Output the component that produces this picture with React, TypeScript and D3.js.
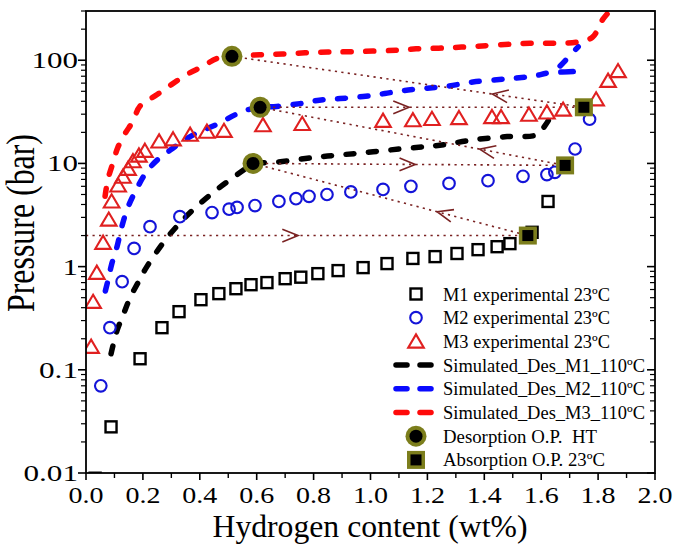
import React from 'react';
import * as d3 from 'd3';

const W = 673, H = 548;
const X0 = 86, X1 = 655, Y0 = 11, Y1 = 473;
const FONT = '"Liberation Serif", "Times New Roman", serif';

// Axis ticks
const xTickValues = [0, 0.2, 0.4, 0.6, 0.8, 1.0, 1.2, 1.4, 1.6, 1.8, 2.0];
const xTickLabels = ['0.0', '0.2', '0.4', '0.6', '0.8', '1.0', '1.2', '1.4', '1.6', '1.8', '2.0'];
const yTickValues = [0.01, 0.1, 1, 10, 100];
const yTickLabels = ['0.01', '0.1', '1', '10', '100'];

// M1 experimental 23ºC
const m1X = [0.032, 0.088, 0.19, 0.267, 0.327, 0.404, 0.467, 0.527, 0.58, 0.636, 0.70, 0.755, 0.815, 0.886, 0.974, 1.058, 1.149, 1.227, 1.304, 1.378, 1.445, 1.49, 1.568, 1.624];
const m1P = [0.0089, 0.028, 0.128, 0.256, 0.366, 0.478, 0.547, 0.611, 0.668, 0.70, 0.764, 0.79, 0.855, 0.915, 0.978, 1.07, 1.20, 1.25, 1.34, 1.46, 1.56, 1.67, 2.15, 4.28];

// M2 experimental 23ºC
const m2X = [0.052, 0.084, 0.127, 0.169, 0.225, 0.33, 0.443, 0.503, 0.531, 0.594, 0.678, 0.738, 0.784, 0.847, 0.931, 1.044, 1.142, 1.276, 1.413, 1.536, 1.62, 1.648, 1.719, 1.77];
const m2P = [0.07, 0.256, 0.715, 1.5, 2.44, 3.05, 3.34, 3.6, 3.75, 3.9, 4.28, 4.55, 4.8, 5.0, 5.3, 5.6, 6.0, 6.4, 6.8, 7.5, 7.8, 8.2, 13.8, 26.8];

// M3 experimental 23ºC
const m3X = [0.018, 0.025, 0.038, 0.06, 0.08, 0.09, 0.113, 0.13, 0.148, 0.165, 0.186, 0.207, 0.257, 0.306, 0.366, 0.425, 0.485, 0.622, 0.76, 1.044, 1.149, 1.216, 1.311, 1.427, 1.459, 1.557, 1.62, 1.677, 1.793, 1.835, 1.87];
const m3P = [0.164, 0.447, 0.855, 1.67, 2.8, 4.2, 6.0, 7.3, 8.7, 10.3, 11.7, 13.0, 16.0, 16.8, 18.6, 19.9, 20.3, 23, 23.7, 25.4, 25.7, 26.5, 27, 27.6, 27.6, 29.1, 30.6, 32.6, 41, 62, 77];

// Simulated desorption curves at 110ºC
const simM1X = [0.088, 0.108, 0.131, 0.155, 0.183, 0.214, 0.288, 0.366, 0.447, 0.517, 0.566, 0.587, 0.657, 0.81, 0.963, 1.114, 1.244, 1.36, 1.48, 1.575, 1.595, 1.625];
const simM1P = [0.143, 0.235, 0.342, 0.5, 0.70, 1.0, 1.95, 3.34, 5.23, 7.3, 9.1, 10, 10.2, 11.5, 12.6, 13.9, 15.0, 16.9, 18.2, 18.6, 20, 26];
const simM2X = [0.068, 0.078, 0.09, 0.109, 0.126, 0.148, 0.18, 0.213, 0.252, 0.30, 0.34, 0.394, 0.46, 0.524, 0.566, 0.612, 0.67, 0.752, 0.82, 0.893, 0.974, 1.05, 1.12, 1.2, 1.27, 1.36, 1.48, 1.57, 1.63, 1.73, 1.655, 1.68, 1.73];
const simM2P = [0.58, 0.75, 1.05, 1.56, 2.45, 3.8, 5.8, 8.3, 10.9, 13.7, 16.5, 20, 23.9, 29.6, 33, 35, 35.6, 38, 41, 42.5, 44.5, 47.6, 51, 53.5, 56, 61.5, 66, 70, 75.6, 78, 79, 96, 135];
const simM3X = [0.067, 0.077, 0.095, 0.112, 0.137, 0.165, 0.19, 0.25, 0.30, 0.355, 0.41, 0.46, 0.513, 0.61, 0.69, 0.77, 0.85, 0.93, 1.09, 1.16, 1.24, 1.32, 1.56, 1.655, 1.725, 1.78, 1.817, 1.85];
const simM3P = [4.8, 7.0, 10.2, 14.3, 19.4, 25.6, 36, 46.5, 58, 73, 87, 104, 109, 113, 115, 118, 120, 121, 125, 129, 131, 134, 146, 146, 150, 167, 250, 320];

// Operating points
const desX = [0.513, 0.612, 0.587];
const desP = [109, 35, 10];
const absX = [1.553, 1.684, 1.75];
const absP = [2.0, 9.57, 35];

// Dotted arrow paths
const segX1 = [0, 0.587, 0.587, 0.612, 0.612, 0.513];
const segP1 = [2.0, 10, 10, 35, 35, 109];
const segX2 = [1.553, 1.553, 1.684, 1.684, 1.75, 1.75];
const segP2 = [2.0, 2.0, 9.57, 9.57, 35, 35];
const headFrac = [0.48, 0.67, 0.52, 0.72, 0.46, 0.74];
const headDir = [1, -1, 1, -1, 1, -1];

const legendLabels = [
  'M1 experimental 23ºC',
  'M2 experimental 23ºC',
  'M3 experimental 23ºC',
  'Simulated_Des_M1_110ºC',
  'Simulated_Des_M2_110ºC',
  'Simulated_Des_M3_110ºC',
  'Desorption O.P.  HT',
  'Absorption O.P. 23ºC',
];
const legendWidths = [167, 167, 167, 202, 202, 202, 154, 162];

const BLACK = '#000000';
const BLUE_M = '#1414d8';
const RED_M = '#e02020';
const BLUE_L = '#0a0aff';
const RED_L = '#ff0a0a';
const OLIVE = '#7c7e1c';
const ARROW = '#7a2222';

function Square({ cx, cy }: { cx: number; cy: number }) {
  const s = 11;
  return <rect x={cx - s / 2} y={cy - s / 2} width={s} height={s} fill="none" stroke={BLACK} strokeWidth={2.4} />;
}
function Circle({ cx, cy }: { cx: number; cy: number }) {
  return <circle cx={cx} cy={cy} r={5.8} fill="none" stroke={BLUE_M} strokeWidth={2.1} />;
}
function Tri({ cx, cy }: { cx: number; cy: number }) {
  const d = `M${cx},${cy - 8} L${cx + 7.8},${cy + 5.2} L${cx - 7.8},${cy + 5.2} Z`;
  return <path d={d} fill="none" stroke={RED_M} strokeWidth={2.1} strokeLinejoin="miter" />;
}
function DesOP({ cx, cy }: { cx: number; cy: number }) {
  return (
    <g>
      <circle cx={cx} cy={cy} r={10.5} fill={OLIVE} />
      <circle cx={cx} cy={cy} r={6.5} fill={BLACK} />
    </g>
  );
}
function AbsOP({ cx, cy }: { cx: number; cy: number }) {
  return (
    <g>
      <rect x={cx - 9} y={cy - 9} width={18} height={18} fill={OLIVE} />
      <rect x={cx - 5.5} y={cy - 5.5} width={11} height={11} fill={BLACK} />
    </g>
  );
}

export default function App() {
  const x = d3.scaleLinear().domain([0, 2]).range([X0, X1]);
  const y = d3.scaleLog().domain([0.01, 300]).range([Y1, Y0]);

  const line = d3
    .line<[number, number]>()
    .x((d) => x(d[0]))
    .y((d) => y(d[1]))
    .curve(d3.curveCatmullRom.alpha(0.5));

  const zip = (a: number[], b: number[]) => a.map((v, i) => [v, b[i]] as [number, number]);

  const minorY: number[] = [];
  for (let e = -2; e <= 2; e++) {
    for (let k = 2; k <= 9; k++) {
      const v = k * Math.pow(10, e);
      if (v <= 300) minorY.push(v);
    }
  }
  const minorX = d3.range(1, 20, 2).map((i) => i / 10);

  const simStyle = {
    fill: 'none',
    strokeWidth: 5.5,
    strokeLinecap: 'round' as const,
    strokeDasharray: '8 14.5',
  };

  const legendY = (i: number) => 294 + i * 23.7;

  return (
    <svg width={W} height={H} style={{ position: 'absolute', left: 0, top: 0, background: '#fff' }}>
      <defs>
        <clipPath id="plotClip">
          <rect x={X0} y={Y0} width={X1 - X0} height={Y1 - Y0} />
        </clipPath>
      </defs>
      <rect x={0} y={0} width={W} height={H} fill="#fff" />

      <g clipPath="url(#plotClip)">
        {/* simulated curves */}
        <path d={line(zip(simM1X, simM1P)) || ''} stroke={BLACK} {...simStyle} />
        <path d={line(zip(simM2X, simM2P)) || ''} stroke={BLUE_L} {...simStyle} />
        <path d={line(zip(simM3X, simM3P)) || ''} stroke={RED_L} {...simStyle} />

        {/* dotted arrows */}
        {segX1.map((_, i) => {
          const ax = x(segX1[i]), ay = y(segP1[i]);
          const bx = x(segX2[i]), by = y(segP2[i]);
          const tx = ax + headFrac[i] * (bx - ax);
          const ty = ay + headFrac[i] * (by - ay);
          const len = Math.hypot(bx - ax, by - ay);
          const ux = ((bx - ax) / len) * headDir[i];
          const uy = ((by - ay) / len) * headDir[i];
          const ang = (22 * Math.PI) / 180;
          const L = 17;
          const r1x = -ux * Math.cos(ang) + uy * Math.sin(ang);
          const r1y = -uy * Math.cos(ang) - ux * Math.sin(ang);
          const r2x = -ux * Math.cos(ang) - uy * Math.sin(ang);
          const r2y = -uy * Math.cos(ang) + ux * Math.sin(ang);
          return (
            <g key={'arr' + i}>
              <line x1={ax} y1={ay} x2={bx} y2={by} stroke={ARROW} strokeWidth={1.6} strokeDasharray="2.2 4.3" />
              <path
                d={`M${tx + r1x * L},${ty + r1y * L} L${tx},${ty} L${tx + r2x * L},${ty + r2y * L}`}
                fill="none"
                stroke={ARROW}
                strokeWidth={1.6}
              />
            </g>
          );
        })}

        {/* experimental */}
        {m1X.map((v, i) => <Square key={'m1' + i} cx={x(v)} cy={y(m1P[i])} />)}
        {m2X.map((v, i) => <Circle key={'m2' + i} cx={x(v)} cy={y(m2P[i])} />)}
        {m3X.map((v, i) => <Tri key={'m3' + i} cx={x(v)} cy={y(m3P[i])} />)}

        {/* operating points */}
        {desX.map((v, i) => <DesOP key={'d' + i} cx={x(v)} cy={y(desP[i])} />)}
        {absX.map((v, i) => <AbsOP key={'a' + i} cx={x(v)} cy={y(absP[i])} />)}
      </g>

      {/* frame */}
      <rect x={X0} y={Y0} width={X1 - X0} height={Y1 - Y0} fill="none" stroke={BLACK} strokeWidth={1.8} />

      {/* x ticks */}
      {xTickValues.map((v) => (
        <line key={'xt' + v} x1={x(v)} x2={x(v)} y1={Y1} y2={Y1 + 7} stroke={BLACK} strokeWidth={1.6} />
      ))}
      {minorX.map((v) => (
        <line key={'xm' + v} x1={x(v)} x2={x(v)} y1={Y1} y2={Y1 + 5} stroke={BLACK} strokeWidth={1.4} />
      ))}
      {xTickValues.map((v, i) => (
        <text
          key={'xl' + v}
          x={x(v)}
          y={503}
          textAnchor="middle"
          fontFamily={FONT}
          fontSize={23}
          textLength={35}
          lengthAdjust="spacingAndGlyphs"
          fill={BLACK}
        >
          {xTickLabels[i]}
        </text>
      ))}

      {/* y ticks */}
      {yTickValues.map((v) => (
        <g key={'yt' + v}>
          <line x1={X0 - 8} x2={X0} y1={y(v)} y2={y(v)} stroke={BLACK} strokeWidth={1.6} />
          <line x1={X1 - 8} x2={X1} y1={y(v)} y2={y(v)} stroke={BLACK} strokeWidth={1.6} />
        </g>
      ))}
      {minorY.map((v) => (
        <g key={'ym' + v}>
          <line x1={X0 - 5} x2={X0} y1={y(v)} y2={y(v)} stroke={BLACK} strokeWidth={1.2} />
          <line x1={X1 - 5} x2={X1} y1={y(v)} y2={y(v)} stroke={BLACK} strokeWidth={1.2} />
        </g>
      ))}
      {yTickValues.map((v, i) => {
        const lab = yTickLabels[i];
        const w = lab.replace('.', '').length * 15.5 + (lab.includes('.') ? 8 : 0);
        return (
          <text
            key={'yl' + v}
            x={78}
            y={y(v) + 8}
            textAnchor="end"
            fontFamily={FONT}
            fontSize={23}
            textLength={w}
            lengthAdjust="spacingAndGlyphs"
            fill={BLACK}
          >
            {lab}
          </text>
        );
      })}

      {/* axis titles */}
      <text
        x={370}
        y={537}
        textAnchor="middle"
        fontFamily={FONT}
        fontSize={31}
        textLength={315}
        lengthAdjust="spacingAndGlyphs"
        fill={BLACK}
      >
        Hydrogen content (wt%)
      </text>
      <text
        transform="translate(34,223) rotate(-90)"
        x={0}
        y={0}
        textAnchor="middle"
        fontFamily={FONT}
        fontSize={39}
        textLength={178}
        lengthAdjust="spacingAndGlyphs"
        fill={BLACK}
      >
        Pressure (bar)
      </text>

      {/* legend */}
      <g>
        <Square cx={416} cy={legendY(0)} />
        <Circle cx={416} cy={legendY(1)} />
        <Tri cx={416} cy={legendY(2) + 1} />
        {[BLACK, BLUE_L, RED_L].map((c, i) => (
          <g key={'lg' + i}>
            <line x1={396} x2={407} y1={legendY(3 + i)} y2={legendY(3 + i)} stroke={c} strokeWidth={5.5} strokeLinecap="round" />
            <line x1={420} x2={431} y1={legendY(3 + i)} y2={legendY(3 + i)} stroke={c} strokeWidth={5.5} strokeLinecap="round" />
          </g>
        ))}
        <DesOP cx={416} cy={legendY(6)} />
        <AbsOP cx={416} cy={legendY(7)} />
        {legendLabels.map((t, i) => (
          <text
            key={'lt' + i}
            x={443}
            y={legendY(i) + 6.5}
            fontFamily={FONT}
            fontSize={18}
            textLength={legendWidths[i]}
            lengthAdjust="spacingAndGlyphs"
            fill={BLACK}
            style={{ whiteSpace: 'pre' }}
          >
            {t}
          </text>
        ))}
      </g>
    </svg>
  );
}
